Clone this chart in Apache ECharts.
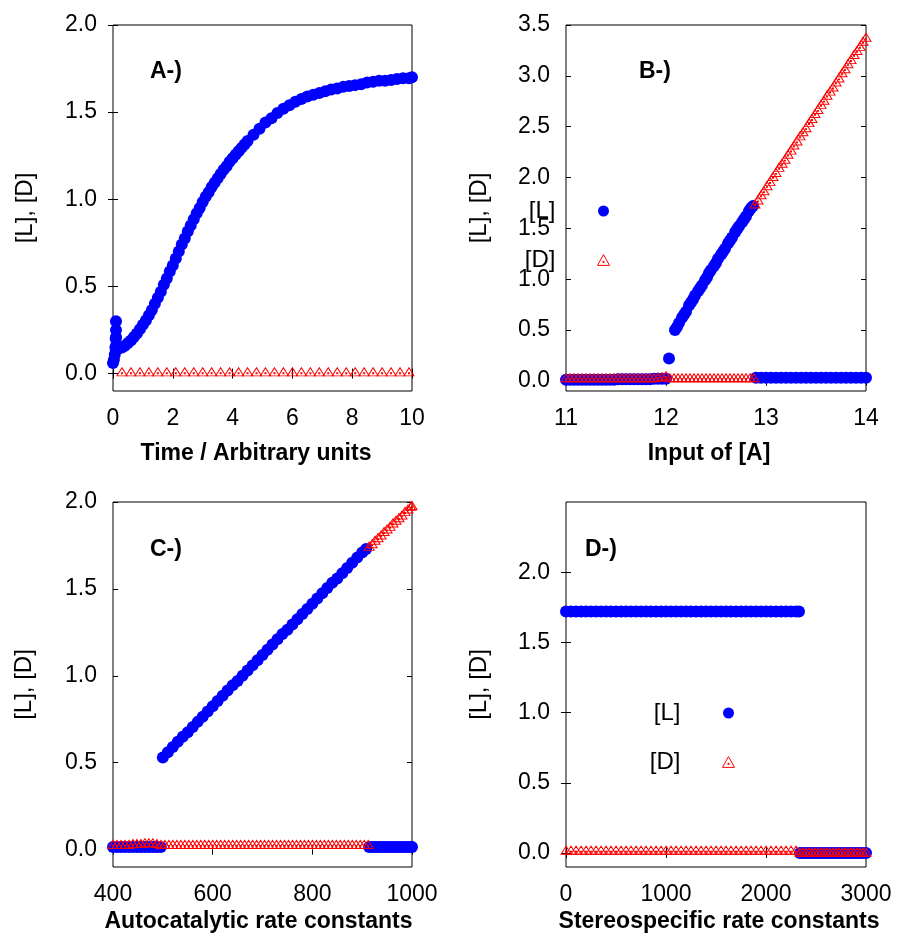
<!DOCTYPE html>
<html>
<head>
<meta charset="utf-8">
<script src="https://cdn.jsdelivr.net/npm/echarts@6/dist/echarts.min.js"></script>
<style>
html, body { margin: 0; padding: 0; background: #fff; }
#chart { width: 899px; height: 934px; }
</style>
</head>
<body>
<div id="chart"></div>
<script>
// ---- panel A : time course ----
var aSpikeL = [[0.00,0.06],[0.03,0.08],[0.06,0.11],[0.08,0.15],[0.09,0.20],[0.10,0.25],[0.10,0.30],[0.10,0.21],[0.11,0.16],[0.13,0.14]];
var aL = [[0.2,0.145],[0.3,0.15],[0.4,0.16],[0.5,0.175],[0.6,0.19],[0.7,0.21],[0.8,0.23],[0.9,0.255],[1.0,0.28],
    [1.1,0.305],[1.2,0.335],[1.3,0.365],[1.4,0.40],[1.5,0.435],[1.6,0.47],[1.7,0.51],[1.8,0.545],[1.9,0.585],[2.0,0.62],
    [2.1,0.66],[2.2,0.70],[2.3,0.74],[2.4,0.775],[2.5,0.815],[2.6,0.85],[2.7,0.885],[2.8,0.92],[2.9,0.95],[3.0,0.985],
    [3.1,1.015],[3.2,1.04],[3.3,1.07],[3.4,1.095],[3.5,1.12],[3.6,1.145],[3.7,1.17],[3.8,1.19],[3.9,1.215],[4.0,1.235],
    [4.1,1.255],[4.2,1.275],[4.3,1.295],[4.4,1.315],[4.5,1.335],[4.7,1.37],[4.9,1.405],[5.1,1.44],[5.3,1.465],[5.5,1.495],
    [5.7,1.52],[5.9,1.54],[6.1,1.56],[6.3,1.575],[6.5,1.59],[6.7,1.60],[6.9,1.61],[7.1,1.62],[7.3,1.63],[7.5,1.635],
    [7.7,1.645],[7.9,1.65],[8.1,1.655],[8.3,1.66],[8.5,1.67],[8.7,1.675],[8.9,1.68],[9.1,1.68],[9.3,1.685],[9.5,1.69],
    [9.7,1.695],[9.9,1.695],[10.0,1.70]];
var aD = [[0.3,0.01],[0.6,0.01],[0.9,0.01],[1.2,0.01],[1.5,0.01],[1.8,0.01],[2.1,0.01],[2.4,0.01],[2.7,0.01],[3.0,0.01],
    [3.3,0.01],[3.6,0.01],[3.9,0.01],[4.2,0.01],[4.5,0.01],[4.8,0.01],[5.1,0.01],[5.4,0.01],[5.7,0.01],[6.0,0.01],
    [6.3,0.01],[6.6,0.01],[6.9,0.01],[7.2,0.01],[7.5,0.01],[7.8,0.01],[8.1,0.01],[8.4,0.01],[8.7,0.01],[9.0,0.01],
    [9.3,0.01],[9.6,0.01],[9.9,0.01]];

// ---- panel B : input of [A] ----
var bLowL = [[11.00,0.01],[11.04,0.01],[11.08,0.01],[11.12,0.01],[11.16,0.01],[11.20,0.01],[11.24,0.01],[11.28,0.01],
    [11.32,0.01],[11.36,0.01],[11.40,0.01],[11.44,0.01],[11.48,0.01],[11.52,0.015],[11.56,0.015],[11.60,0.015],[11.64,0.015],
    [11.68,0.015],[11.72,0.015],[11.76,0.015],[11.80,0.015],[11.84,0.015],[11.88,0.02],[11.92,0.02],[11.96,0.02],[12.00,0.02]];
var bJumpL = [[12.03,0.22]];
var bRiseL = [[12.09,0.50],[12.11,0.53],[12.13,0.57],[12.16,0.62],[12.18,0.65],[12.20,0.68],[12.23,0.74],[12.25,0.77],
    [12.27,0.80],[12.29,0.84],[12.32,0.88],[12.34,0.91],[12.36,0.94],[12.39,0.99],[12.41,1.02],[12.43,1.06],[12.45,1.09],
    [12.48,1.13],[12.50,1.16],[12.52,1.20],[12.55,1.24],[12.57,1.27],[12.59,1.30],[12.62,1.35],[12.64,1.38],[12.66,1.41],
    [12.69,1.46],[12.71,1.49],[12.73,1.52],[12.76,1.56],[12.78,1.59],[12.80,1.62],[12.83,1.67],[12.85,1.70],[12.87,1.72]];
var bHighL = [[12.90,0.03],[12.95,0.03],[13.00,0.03],[13.05,0.03],[13.10,0.03],[13.15,0.03],[13.20,0.03],[13.25,0.03],
    [13.30,0.03],[13.35,0.03],[13.40,0.03],[13.45,0.03],[13.50,0.03],[13.55,0.03],[13.60,0.03],[13.65,0.03],[13.70,0.03],
    [13.75,0.03],[13.80,0.03],[13.85,0.03],[13.90,0.03],[13.95,0.03],[14.00,0.03]];
var bLowD = [[11.00,0.03],[11.04,0.03],[11.08,0.03],[11.12,0.03],[11.16,0.03],[11.20,0.03],[11.24,0.03],[11.28,0.03],
    [11.32,0.03],[11.36,0.03],[11.40,0.03],[11.44,0.03],[11.48,0.03],[11.52,0.03],[11.56,0.03],[11.60,0.03],[11.64,0.03],
    [11.68,0.03],[11.72,0.03],[11.76,0.03],[11.80,0.03],[11.84,0.03],[11.88,0.03],[11.92,0.035],[11.96,0.04],[12.00,0.05],
    [12.04,0.03],[12.08,0.03],[12.12,0.03],[12.16,0.03],[12.20,0.03],[12.24,0.03],[12.28,0.03],[12.32,0.03],[12.36,0.03],
    [12.40,0.03],[12.44,0.03],[12.48,0.03],[12.52,0.03],[12.56,0.03],[12.60,0.03],[12.64,0.03],[12.68,0.03],[12.72,0.03],
    [12.76,0.03],[12.80,0.03],[12.84,0.03],[12.88,0.03]];
var bRiseD = [[12.89,1.74],[12.92,1.78],[12.95,1.83],[12.98,1.87],[13.01,1.92],[13.04,1.96],[13.07,2.01],[13.10,2.05],
    [13.13,2.10],[13.16,2.14],[13.19,2.18],[13.22,2.23],[13.25,2.27],[13.28,2.32],[13.31,2.36],[13.34,2.41],[13.37,2.45],
    [13.40,2.49],[13.43,2.54],[13.46,2.58],[13.49,2.63],[13.52,2.67],[13.55,2.72],[13.58,2.76],[13.61,2.81],[13.64,2.85],
    [13.67,2.89],[13.70,2.94],[13.73,2.98],[13.76,3.03],[13.79,3.07],[13.82,3.12],[13.85,3.16],[13.88,3.21],[13.91,3.25],
    [13.94,3.29],[13.97,3.34],[14.00,3.38]];

// ---- panel C : autocatalytic rate constants ----
var cLowL = [[400,0.015],[408,0.015],[416,0.015],[424,0.015],[432,0.015],[440,0.015],[448,0.015],[456,0.015],[464,0.015],
    [472,0.015],[480,0.015],[488,0.015],[496,0.015]];
var cRiseL = [[500,0.53],[510,0.56],[520,0.59],[530,0.62],[540,0.65],[550,0.675],[560,0.705],[570,0.735],[580,0.765],
    [590,0.795],[600,0.825],[610,0.855],[620,0.885],[630,0.915],[640,0.945],[650,0.97],[660,1.00],[670,1.03],[680,1.06],
    [690,1.09],[700,1.12],[710,1.15],[720,1.18],[730,1.21],[740,1.24],[750,1.265],[760,1.295],[770,1.325],[780,1.355],
    [790,1.385],[800,1.415],[810,1.445],[820,1.475],[830,1.505],[840,1.535],[850,1.56],[860,1.59],[870,1.62],[880,1.65],
    [890,1.68],[900,1.71],[908,1.73]];
var cHighL = [[914,0.015],[920,0.015],[926,0.015],[932,0.015],[938,0.015],[944,0.015],[950,0.015],[956,0.015],[962,0.015],
    [968,0.015],[974,0.015],[980,0.015],[986,0.015],[992,0.015],[998,0.015],[1000,0.015]];
var cLowD = [[400,0.03],[408,0.03],[416,0.03],[424,0.03],[432,0.03],[440,0.035],[448,0.035],[456,0.035],[464,0.04],
    [472,0.04],[480,0.04],[488,0.035],[496,0.03],[504,0.03],[512,0.03],[520,0.03],[528,0.03],[536,0.03],[544,0.03],
    [552,0.03],[560,0.03],[568,0.03],[576,0.03],[584,0.03],[592,0.03],[600,0.03],[608,0.03],[616,0.03],[624,0.03],
    [632,0.03],[640,0.03],[648,0.03],[656,0.03],[664,0.03],[672,0.03],[680,0.03],[688,0.03],[696,0.03],[704,0.03],
    [712,0.03],[720,0.03],[728,0.03],[736,0.03],[744,0.03],[752,0.03],[760,0.03],[768,0.03],[776,0.03],[784,0.03],
    [792,0.03],[800,0.03],[808,0.03],[816,0.03],[824,0.03],[832,0.03],[840,0.03],[848,0.03],[856,0.03],[864,0.03],
    [872,0.03],[880,0.03],[888,0.03],[896,0.03],[904,0.03],[912,0.03]];
var cRiseD = [[914,1.745],[920,1.76],[926,1.78],[932,1.795],[938,1.81],[944,1.83],[950,1.845],[956,1.86],[962,1.88],
    [968,1.895],[974,1.91],[980,1.925],[986,1.945],[992,1.96],[998,1.975],[1000,1.98]];

// ---- panel D : stereospecific rate constants ----
var dFlatL = [[0,1.72],[50,1.72],[100,1.72],[150,1.72],[200,1.72],[250,1.72],[300,1.72],[350,1.72],[400,1.72],[450,1.72],
    [500,1.72],[550,1.72],[600,1.72],[650,1.72],[700,1.72],[750,1.72],[800,1.72],[850,1.72],[900,1.72],[950,1.72],
    [1000,1.72],[1050,1.72],[1100,1.72],[1150,1.72],[1200,1.72],[1250,1.72],[1300,1.72],[1350,1.72],[1400,1.72],
    [1450,1.72],[1500,1.72],[1550,1.72],[1600,1.72],[1650,1.72],[1700,1.72],[1750,1.72],[1800,1.72],[1850,1.72],
    [1900,1.72],[1950,1.72],[2000,1.72],[2050,1.72],[2100,1.72],[2150,1.72],[2200,1.72],[2250,1.72],[2300,1.72],[2330,1.72]];
var dTailL = [[2340,0.0],[2370,0.0],[2400,0.0],[2430,0.0],[2460,0.0],[2490,0.0],[2520,0.0],[2550,0.0],[2580,0.0],
    [2610,0.0],[2640,0.0],[2670,0.0],[2700,0.0],[2730,0.0],[2760,0.0],[2790,0.0],[2820,0.0],[2850,0.0],[2880,0.0],
    [2910,0.0],[2940,0.0],[2970,0.0],[3000,0.0]];
var dLowD = [[0,0.02],[50,0.02],[100,0.02],[150,0.02],[200,0.02],[250,0.02],[300,0.02],[350,0.02],[400,0.02],[450,0.02],
    [500,0.02],[550,0.02],[600,0.02],[650,0.02],[700,0.02],[750,0.02],[800,0.02],[850,0.02],[900,0.02],[950,0.02],
    [1000,0.02],[1050,0.02],[1100,0.02],[1150,0.02],[1200,0.02],[1250,0.02],[1300,0.02],[1350,0.02],[1400,0.02],
    [1450,0.02],[1500,0.02],[1550,0.02],[1600,0.02],[1650,0.02],[1700,0.02],[1750,0.02],[1800,0.02],[1850,0.02],
    [1900,0.02],[1950,0.02],[2000,0.02],[2050,0.02],[2100,0.02],[2150,0.02],[2200,0.02],[2250,0.02],[2300,0.02]];
var dTailD = [[2340,0.005],[2370,0.005],[2400,0.005],[2430,0.005],[2460,0.005],[2490,0.005],[2520,0.005],[2550,0.005],
    [2580,0.005],[2610,0.005],[2640,0.005],[2670,0.005],[2700,0.005],[2730,0.005],[2760,0.005],[2790,0.005],[2820,0.005],
    [2850,0.005],[2880,0.005],[2910,0.005],[2940,0.005],[2970,0.005],[3000,0.005]];

// tick values
var yTicksA = [0, 0.5, 1.0, 1.5, 2.0];
var yTicksB = [0, 0.5, 1.0, 1.5, 2.0, 2.5, 3.0, 3.5];
var yTicksC = [0, 0.5, 1.0, 1.5, 2.0];
var yTicksD = [0, 0.5, 1.0, 1.5, 2.0];
var panelLabels = ['A-)', 'B-)', 'C-)', 'D-)'];

var FONT = '"Liberation Sans", Arial, sans-serif';
var TRI = 'path://M5,0L10,9L0,9Z M4.5,5.6h1v1h-1Z';

function tickStyle() {
    return { inside: true, length: 5, lineStyle: { color: '#000', width: 1 } };
}

function makeX(g, min, max, interval, name, gap, pad) {
    return [{
        gridIndex: g, type: 'value', position: 'bottom', min: min, max: max, interval: interval,
        name: name, nameLocation: 'middle', nameGap: gap,
        nameTextStyle: { fontFamily: FONT, fontSize: 23, fontWeight: 'bold', color: '#000', padding: pad },
        axisLine: { show: false }, axisTick: tickStyle(), splitLine: { show: false },
        axisLabel: {
            margin: 16, fontSize: 23, fontFamily: FONT, color: '#000',
            formatter: function (v) { return String(v); }
        }
    }, {
        gridIndex: g, type: 'value', position: 'top', min: min, max: max, interval: interval,
        axisLine: { show: false }, axisTick: tickStyle(), splitLine: { show: false },
        axisLabel: { show: false }
    }];
}

function makeY(g, min, max, ticks, gap) {
    var tl = tickStyle(); tl.customValues = ticks;
    var tr = tickStyle(); tr.customValues = ticks;
    return [{
        gridIndex: g, type: 'value', position: 'left', min: min, max: max,
        name: '[L], [D]', nameLocation: 'middle', nameGap: gap,
        nameTextStyle: { fontFamily: FONT, fontSize: 24, color: '#000' },
        axisLine: { show: false }, axisTick: tl, splitLine: { show: false },
        axisLabel: {
            margin: 16, fontSize: 23, fontFamily: FONT, color: '#000', customValues: ticks,
            formatter: function (v) { return v.toFixed(1); }
        }
    }, {
        gridIndex: g, type: 'value', position: 'right', min: min, max: max,
        axisLine: { show: false }, axisTick: tr, splitLine: { show: false },
        axisLabel: { show: false }
    }];
}

function lSeries(g, data) {
    return {
        type: 'scatter', name: '[L]', xAxisIndex: g * 2, yAxisIndex: g * 2, data: data,
        symbol: 'circle', symbolSize: 12, silent: true, animation: false,
        itemStyle: { color: '#0000ff', opacity: 1 }
    };
}

function dSeries(g, data) {
    return {
        type: 'scatter', name: '[D]', xAxisIndex: g * 2, yAxisIndex: g * 2, data: data,
        symbol: TRI, symbolSize: [10, 9], symbolKeepAspect: true, silent: true, animation: false,
        itemStyle: { color: 'rgba(0,0,0,0)', borderColor: '#ff0000', borderWidth: 1, opacity: 1 }
    };
}

function legendAt(right, top) {
    return {
        data: [
            { name: '[L]', icon: 'circle', itemStyle: { color: '#0000ff', borderWidth: 0, opacity: 1 } },
            { name: '[D]', icon: TRI, itemStyle: { color: 'rgba(0,0,0,0)', borderColor: '#ff0000', borderWidth: 1, opacity: 1 } }
        ],
        orient: 'vertical', align: 'right', right: right, top: top, padding: 0,
        itemWidth: 12, itemHeight: 11, itemGap: 25, selectedMode: false,
        textStyle: { fontFamily: FONT, fontSize: 24, color: '#000', padding: [0, 37, 0, 0] }
    };
}

var grids = [
    { left: 113, top: 25, width: 299, height: 366 },
    { left: 566, top: 25, width: 300, height: 366 },
    { left: 113, top: 502, width: 299, height: 365 },
    { left: 566, top: 502, width: 300, height: 365 }
].map(function (g) {
    g.show = true; g.borderColor = '#000'; g.borderWidth = 1;
    g.backgroundColor = 'rgba(0,0,0,0)'; g.containLabel = false; g.outerBoundsMode = 'none';
    return g;
});

var labelPos = [[150, 60], [639, 60], [150, 538], [585, 538]];

var option = {
    backgroundColor: '#ffffff',
    animation: false,
    grid: grids,
    xAxis: [].concat(
        makeX(0, 0, 10, 2, 'Time / Arbitrary units', 51, [0, 13, 0, 0]),
        makeX(1, 11, 14, 1, 'Input of [A]', 51, [0, 14, 0, 0]),
        makeX(2, 400, 1000, 200, 'Autocatalytic rate constants', 43, [0, 8, 0, 0]),
        makeX(3, 0, 3000, 1000, 'Stereospecific rate constants', 43, [0, 0, 0, 6])
    ),
    yAxis: [].concat(
        makeY(0, -0.1, 2.0, yTicksA, 76),
        makeY(1, -0.1, 3.5, yTicksB, 75),
        makeY(2, -0.1, 2.0, yTicksC, 77),
        makeY(3, -0.1, 2.5, yTicksD, 75)
    ),
    legend: [legendAt(289, 199), legendAt(164, 701)],
    graphic: panelLabels.map(function (t, i) {
        return {
            type: 'text', left: labelPos[i][0], top: labelPos[i][1], silent: true,
            style: { text: t, font: 'bold 23px ' + FONT, fill: '#000' }
        };
    }),
    series: [
        lSeries(0, aSpikeL.concat(aL)),
        dSeries(0, aD),
        lSeries(1, bLowL.concat(bJumpL, bRiseL, bHighL)),
        dSeries(1, bLowD.concat(bRiseD)),
        lSeries(2, cLowL.concat(cRiseL, cHighL)),
        dSeries(2, cLowD.concat(cRiseD)),
        lSeries(3, dFlatL.concat(dTailL)),
        dSeries(3, dLowD.concat(dTailD))
    ]
};

var chart = echarts.init(document.getElementById('chart'), null, { renderer: 'canvas' });
chart.setOption(option);
</script>
</body>
</html>
